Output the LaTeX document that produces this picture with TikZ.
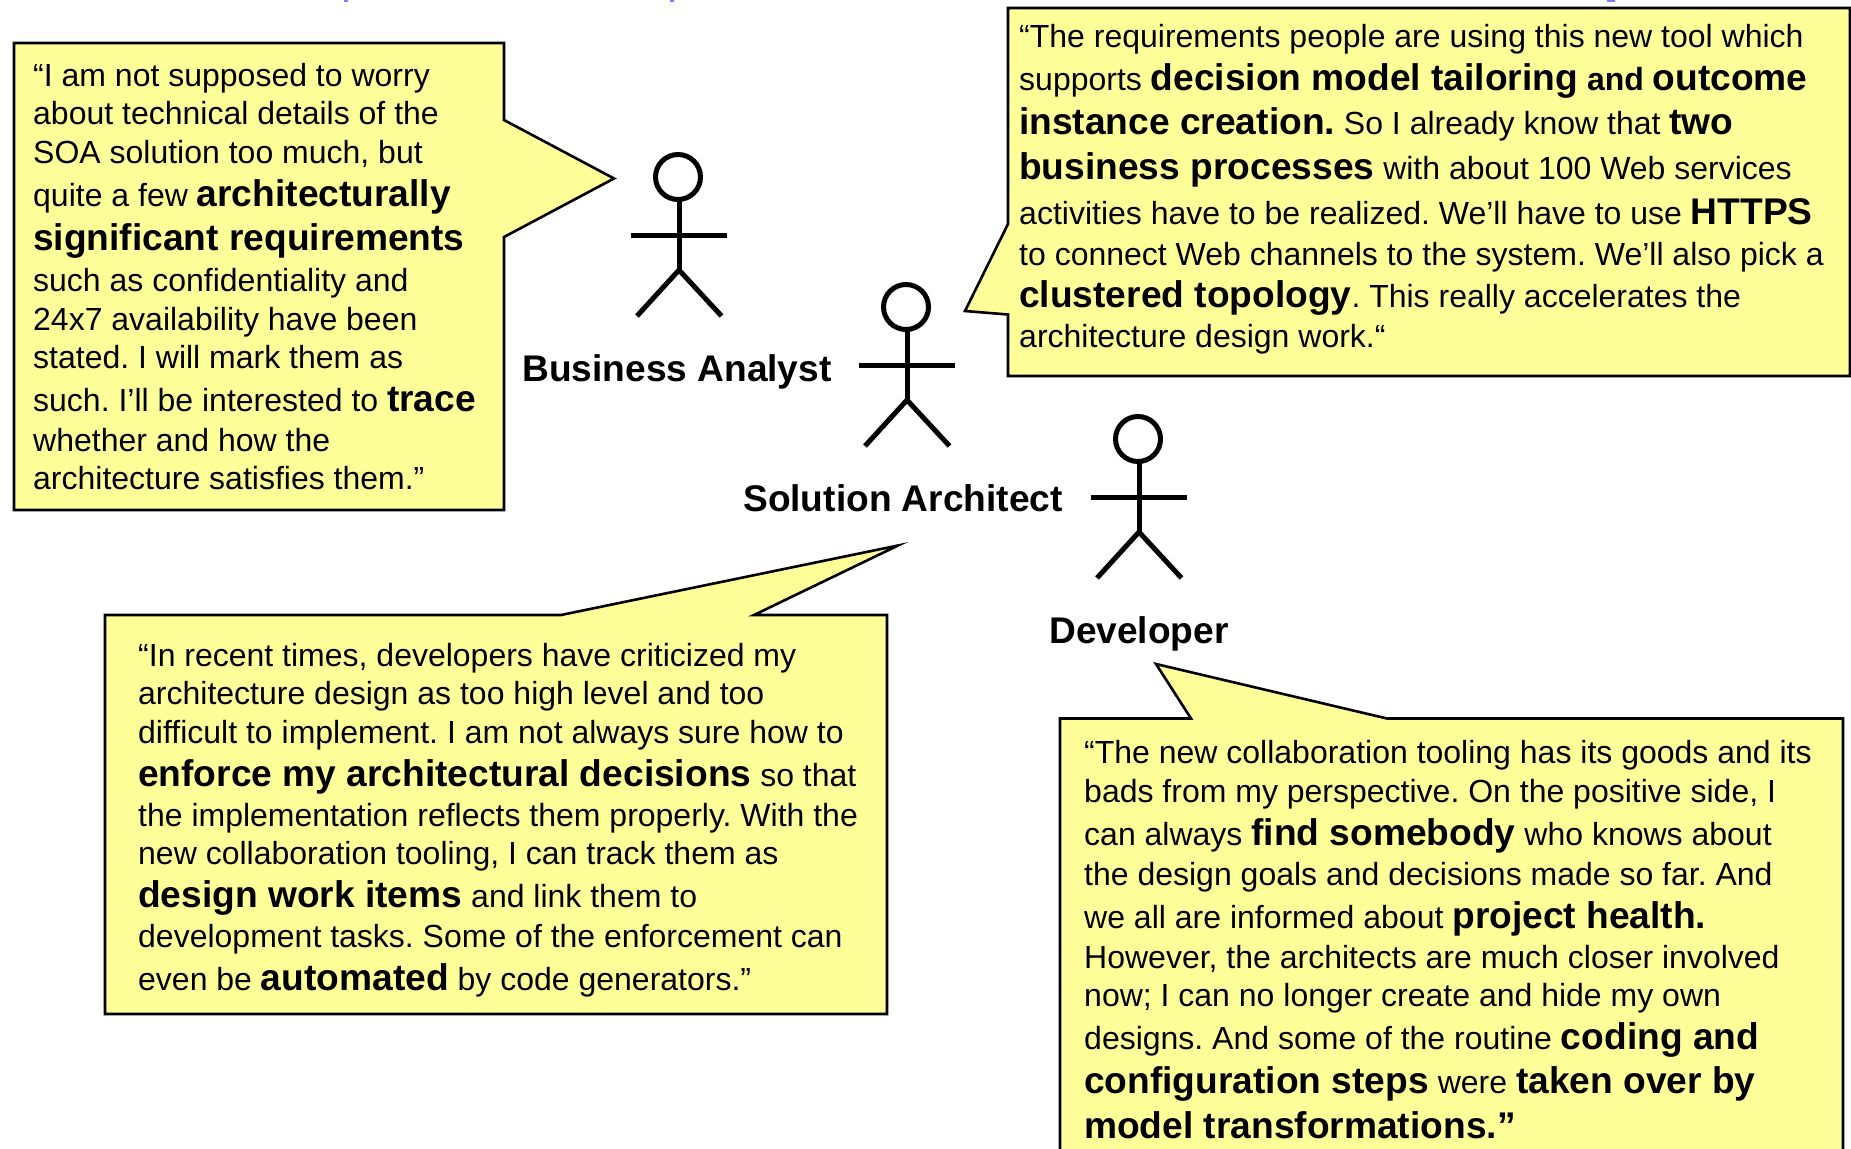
\documentclass[tikz,border=0pt]{standalone}
\usepackage{fontspec}
\setmainfont{Liberation Sans}
\frenchspacing
\definecolor{noteyellow}{HTML}{FFFF99}
\definecolor{titleblue}{HTML}{8080FF}
\newcommand{\bigbf}[1]{{\fontsize{37.15}{38.5}\selectfont\bfseries #1}}
\tikzset{
  x=1pt, y=-1pt,
  callout/.style={draw=black, fill=noteyellow, line width=2.6pt, line join=miter},
  notetext/.style={anchor=north west, inner sep=0pt, align=left, font=\fontsize{32}{38.5}\selectfont},
  actorlabel/.style={inner sep=0pt, font=\fontsize{37.1}{40}\selectfont\bfseries},
  actorline/.style={draw=black, line width=5pt}
}
\begin{document}
\begin{tikzpicture}
\useasboundingbox (0,0) rectangle (1851,1148);
\clip (0,0) rectangle (1851,1148);

%cut off title
\fill[titleblue] (344,0) rectangle (348,2) (670,0) rectangle (674,2) (1607,0) rectangle (1615,2);

%actors
\foreach \ax/\ay in {678/177, 906/307, 1138/439} {
  \begin{scope}[shift={(\ax,\ay)}]
    \draw[actorline] (0,0) circle (22.5);
    \draw[actorline] (1,23) -- (1,93);
    \draw[actorline] (-47,58) -- (49,58);
    \draw[actorline] (-41,139) -- (1,93) -- (43.5,139);
  \end{scope}
}
\node[actorlabel] (analystlabel) at (677,371.5) {Business Analyst};
\node[actorlabel] (architectlabel) at (903,498) {Solution Architect};
\node[actorlabel] (developerlabel) at (1139,633.5) {Developer};

%business analyst
\draw[callout] (14,43) -- (504,43) -- (504,120) -- (614,178.5) -- (504,237) -- (504,510) -- (14,510) -- cycle;
\node[notetext] (analysttext) at (33,63) {%
“I am not supposed to worry\\
about technical details of the\\
SOA solution too much, but\\[4.5pt]
quite a few \bigbf{architecturally}\\[5.5pt]
\bigbf{significant requirements}\\[2.5pt]
such as confidentiality and\\[0.5pt]
24x7 availability have been\\
stated. I will mark them as\\[4pt]
such. I’ll be interested to \bigbf{trace}\\[1.5pt]
whether and how the\\[-0.5pt]
architecture satisfies them.”};

%solution architect, upper note
\draw[callout] (1008,8) -- (1850,8) -- (1850,376) -- (1008,376) -- (1008,314.5) -- (965,311) -- (1008,224) -- cycle;
\node[notetext] (designtext) at (1019,24.5) {%
“The requirements people are using this new tool which\\[4pt]
supports \bigbf{decision model tailoring} {\bfseries and} \bigbf{outcome}\\[6pt]
\bigbf{instance creation.} So I already know that \bigbf{two}\\[6pt]
\bigbf{business processes} with about 100 Web services\\[7pt]
activities have to be realized. We’ll have to use \bigbf{HTTPS}\\[2pt]
to connect Web channels to the system. We’ll also pick a\\[4pt]
\bigbf{clustered topology}. This really accelerates the\\[1.5pt]
architecture design work.“};

%solution architect, lower note
\draw[callout] (105,615) -- (561,615) -- (898,545.5) -- (754,615) -- (887,615) -- (887,1014) -- (105,1014) -- cycle;
\node[notetext] (architecttext) at (138,642.7) {%
“In recent times, developers have criticized my\\
architecture design as too high level and too\\
difficult to implement. I am not always sure how to\\[4.5pt]
\bigbf{enforce my architectural decisions} so that\\[1.5pt]
the implementation reflects them properly. With the\\[-0.5pt]
new collaboration tooling, I can track them as\\[5pt]
\bigbf{design work items} and link them to\\[1.5pt]
development tasks. Some of the enforcement can\\[4.5pt]
even be \bigbf{automated} by code generators.”};

%developer
\draw[callout] (1060,718.5) -- (1191,718.5) -- (1156,664) -- (1387,718.5) -- (1843,718.5) -- (1843,1160) -- (1060,1160) -- cycle;
\node[notetext] (developertext) at (1084,740.5) {%
“The new collaboration tooling has its goods and its\\
bads from my perspective. On the positive side, I\\[5pt]
can always \bigbf{find somebody} who knows about\\[1.5pt]
the design goals and decisions made so far. And\\[4pt]
we all are informed about \bigbf{project health.}\\[1.5pt]
However, the architects are much closer involved\\
now; I can no longer create and hide my own\\[4pt]
designs. And some of the routine \bigbf{coding and}\\[6pt]
\bigbf{configuration steps} were \bigbf{taken over by}\\[6.5pt]
\bigbf{model transformations.”}};
\end{tikzpicture}
\end{document}
